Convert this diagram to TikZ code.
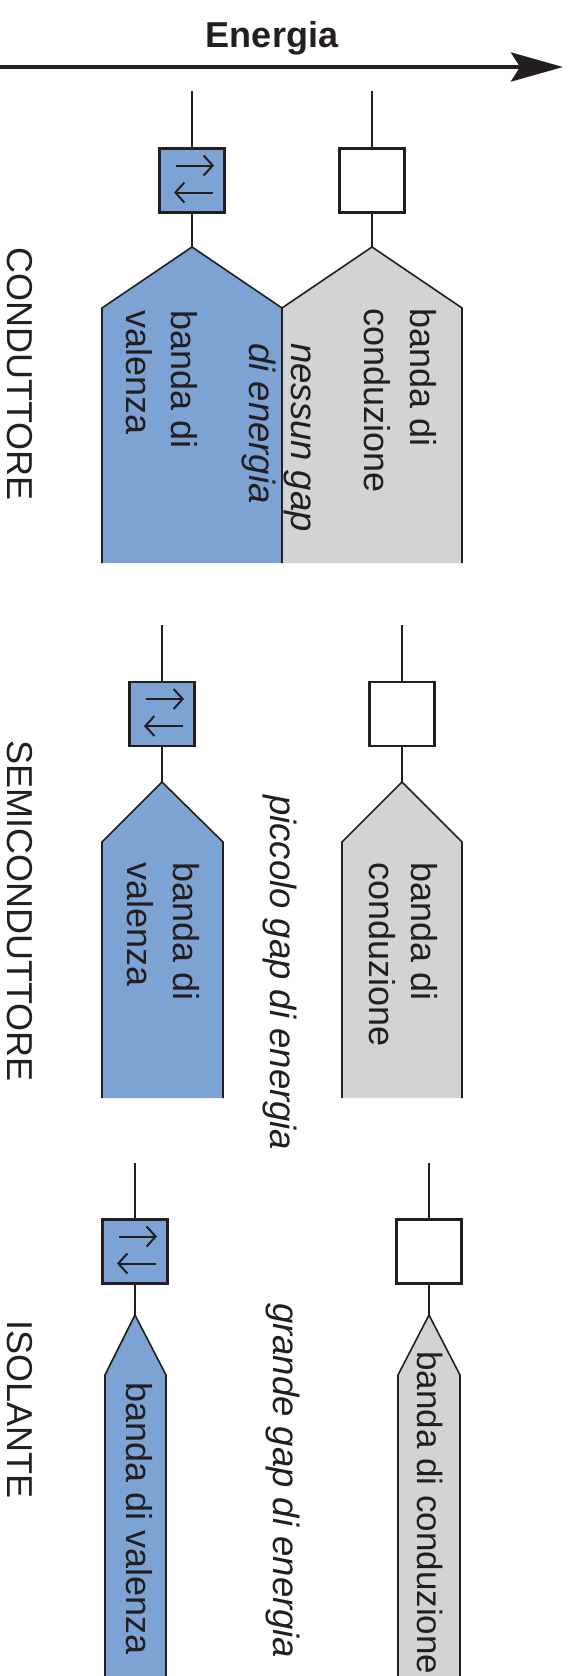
\documentclass[tikz,border=0pt]{standalone}
\usepackage{fontspec}
\setmainfont{Liberation Sans}
\usetikzlibrary{arrows.meta,calc}
\definecolor{inkc}{RGB}{35,31,32}
\definecolor{valc}{RGB}{125,163,213}
\definecolor{conc}{RGB}{209,211,212}
\begin{document}
\begin{tikzpicture}[x=1pt,y=-1pt,
  lbl/.style={rotate=-90,anchor=base west,inner sep=0pt,text=inkc,font=\fontsize{36}{43}\selectfont},
  ilbl/.style={lbl,font=\fontsize{36.5}{43}\selectfont\itshape},
  stem/.style={draw=inkc,line width=1.7pt},
  edge/.style={draw=inkc,line width=1.6pt},
  cell/.style={draw=inkc,line width=2.8pt,minimum width=65pt,minimum height=64pt,inner sep=0pt},
  fullcell/.style={cell,fill=valc},
  emptycell/.style={cell,fill=white},
  barb/.style={draw=inkc,line width=2pt,-{Straight Barb[length=9pt,width=20pt]}}
]
\useasboundingbox (0,0) rectangle (571,1676);
\fill[white] (0,0) rectangle (571,1676);

% energy axis
\node[anchor=base,inner sep=0pt,text=inkc,font=\fontsize{36}{43}\selectfont\bfseries] (energia) at (272,47) {Energia};
\coordinate (axL) at (0,67);
\coordinate (axR) at (563,67);
\draw[line width=4.4pt,draw=inkc,-{Stealth[length=52pt,width=29pt,inset=9pt]}] (axL) -- (axR);

% ---------- CONDUTTORE ----------
\coordinate (c1t) at (192,91);
\coordinate (c1a) at (192,247);
\coordinate (c2t) at (372,91);
\coordinate (c2a) at (372,247);
\fill[valc] (102,563) -- (102,308) -- (c1a) -- (282,308) -- (282,563) -- cycle;
\fill[conc] (282,563) -- (282,308) -- (c2a) -- (462,308) -- (462,563) -- cycle;
\draw[edge] (102,563) -- (102,308) -- (c1a) -- (282,308) -- (282,563);
\draw[edge] (282,308) -- (c2a) -- (462,308) -- (462,563);
\node[fullcell] (cb1) at (192,180.5) {};
\node[emptycell] (cb2) at (372,180.5) {};
\draw[stem] (c1t) -- (cb1.north);
\draw[stem] (cb1.south) -- (c1a);
\draw[stem] (c2t) -- (cb2.north);
\draw[stem] (cb2.south) -- (c2a);
\draw[barb] ($(cb1)+(-16,-15)$) -- ($(cb1)+(22,-15)$);
\draw[barb] ($(cb1)+(21,12)$) -- ($(cb1)+(-18,12)$);
\node[lbl] (cname) at (7,247) {CONDUTTORE};
\node[lbl] (cv1) at (171,310) {banda di};
\node[lbl] (cv2) at (126,310) {valenza};
\node[ilbl] (cg1) at (291,343) {nessun gap};
\node[ilbl] (cg2) at (249,343) {di energia};
\node[lbl] (cc1) at (410,308) {banda di};
\node[lbl] (cc2) at (364,308) {conduzione};

% ---------- SEMICONDUTTORE ----------
\coordinate (s1t) at (162,625);
\coordinate (s1a) at (162,782);
\coordinate (s2t) at (402,625);
\coordinate (s2a) at (402,782);
\fill[valc] (102,1098) -- (102,842) -- (s1a) -- (223,842) -- (223,1098) -- cycle;
\fill[conc] (342,1098) -- (342,842) -- (s2a) -- (462,842) -- (462,1098) -- cycle;
\draw[edge] (102,1098) -- (102,842) -- (s1a) -- (223,842) -- (223,1098);
\draw[edge] (342,1098) -- (342,842) -- (s2a) -- (462,842) -- (462,1098);
\node[fullcell] (sb1) at (162,714) {};
\node[emptycell] (sb2) at (402,714) {};
\draw[stem] (s1t) -- (sb1.north);
\draw[stem] (sb1.south) -- (s1a);
\draw[stem] (s2t) -- (sb2.north);
\draw[stem] (sb2.south) -- (s2a);
\draw[barb] ($(sb1)+(-16,-15)$) -- ($(sb1)+(22,-15)$);
\draw[barb] ($(sb1)+(21,12)$) -- ($(sb1)+(-18,12)$);
\node[lbl] (sname) at (7,740) {SEMICONDUTTORE};
\node[lbl] (sv1) at (173,862) {banda di};
\node[lbl] (sv2) at (127,862) {valenza};
\node[ilbl] (sg) at (270,795) {piccolo gap di energia};
\node[lbl] (sc1) at (411,862) {banda di};
\node[lbl] (sc2) at (369,862) {conduzione};

% ---------- ISOLANTE ----------
\coordinate (i1t) at (135,1163);
\coordinate (i1a) at (135,1315);
\coordinate (i2t) at (429,1163);
\coordinate (i2a) at (429,1315);
\fill[valc] (105,1680) -- (105,1375) -- (i1a) -- (166,1375) -- (166,1680) -- cycle;
\fill[conc] (398,1680) -- (398,1375) -- (i2a) -- (460,1375) -- (460,1680) -- cycle;
\draw[edge] (105,1680) -- (105,1375) -- (i1a) -- (166,1375) -- (166,1680);
\draw[edge] (398,1680) -- (398,1375) -- (i2a) -- (460,1375) -- (460,1680);
\node[fullcell] (ib1) at (135,1251.5) {};
\node[emptycell] (ib2) at (429,1251.5) {};
\draw[stem] (i1t) -- (ib1.north);
\draw[stem] (ib1.south) -- (i1a);
\draw[stem] (i2t) -- (ib2.north);
\draw[stem] (ib2.south) -- (i2a);
\draw[barb] ($(ib1)+(-16,-15)$) -- ($(ib1)+(22,-15)$);
\draw[barb] ($(ib1)+(21,12)$) -- ($(ib1)+(-18,12)$);
\node[lbl] (iname) at (7,1320) {ISOLANTE};
\node[lbl] (iv) at (126,1382) {banda di valenza};
\node[ilbl] (ig) at (273,1303) {grande gap di energia};
\node[lbl,font=\fontsize{35}{42}\selectfont] (ic) at (417,1351) {banda di conduzione};
\end{tikzpicture}
\end{document}
